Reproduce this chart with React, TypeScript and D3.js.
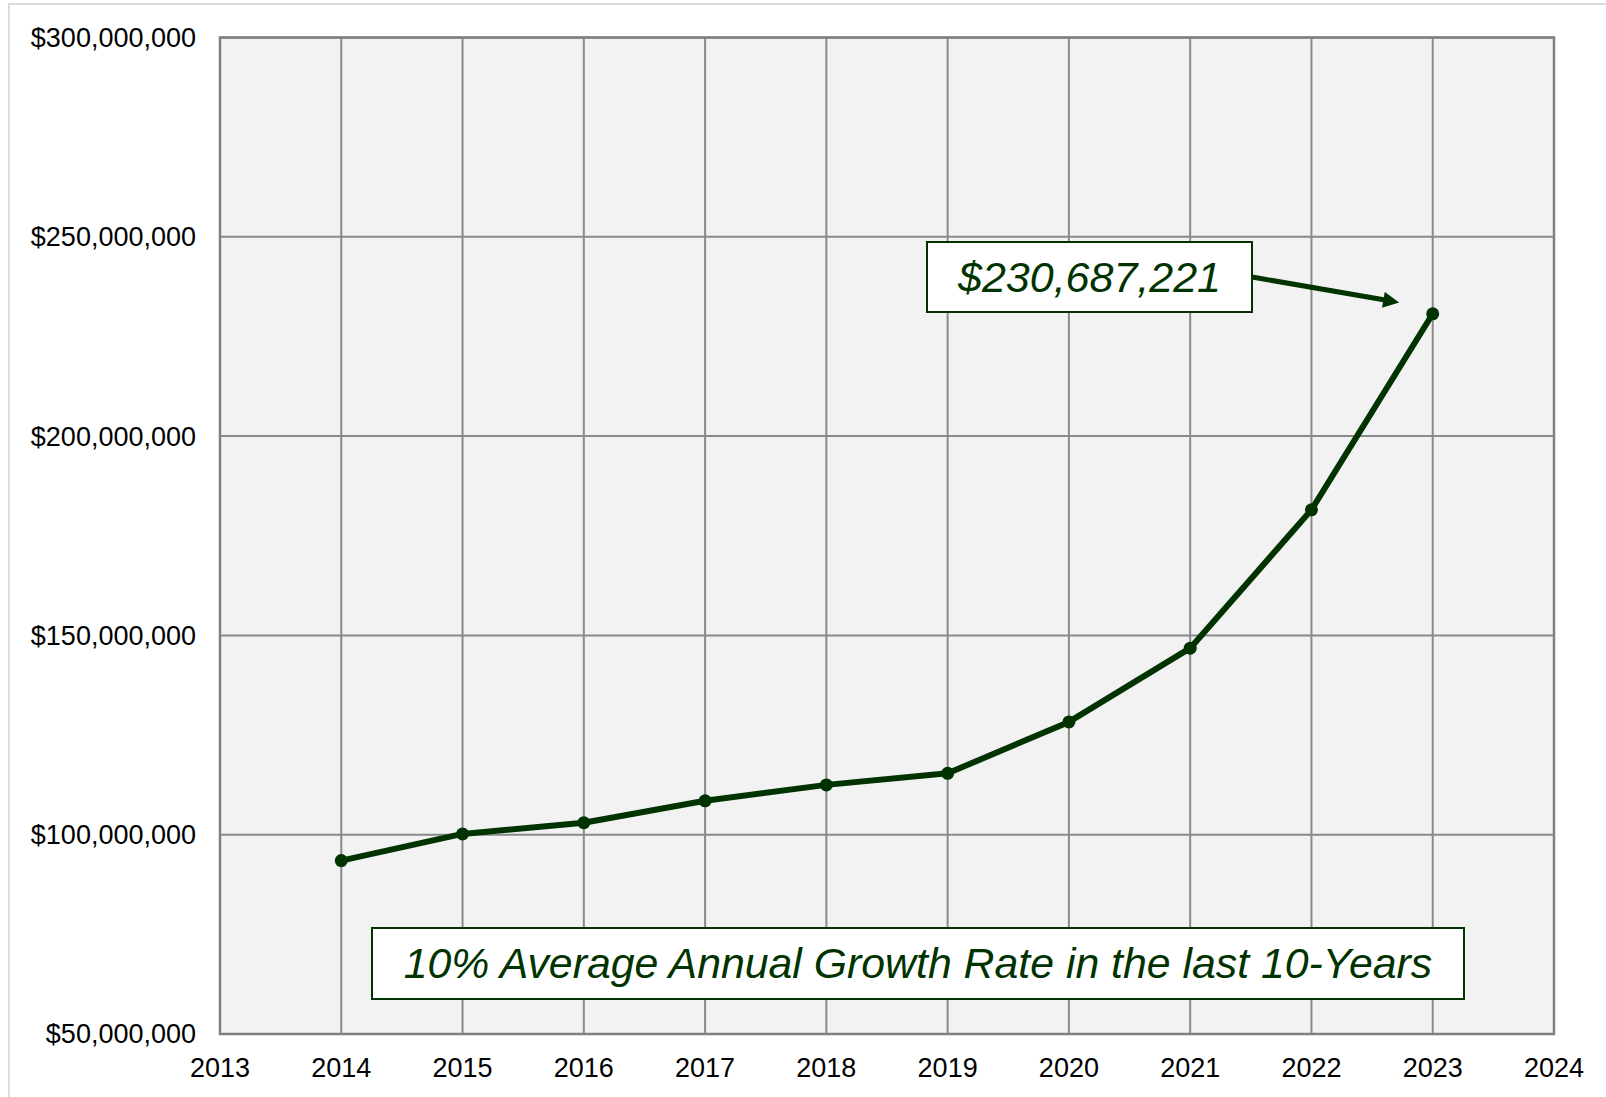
import React from "react";
import * as d3 from "d3";

const years = [2014, 2015, 2016, 2017, 2018, 2019, 2020, 2021, 2022, 2023];
const revenue = [
  93500000, 100200000, 103000000, 108500000, 112500000, 115400000, 128300000,
  146800000, 181500000, 230687221,
];
const xTicks = [2013, 2014, 2015, 2016, 2017, 2018, 2019, 2020, 2021, 2022, 2023, 2024];
const yTicks = [50000000, 100000000, 150000000, 200000000, 250000000, 300000000];
const calloutText = "$230,687,221";
const growthText = "10% Average Annual Growth Rate in the last 10-Years";

const W = 1606;
const H = 1097;
const green = "#013300";
const font = "'Liberation Sans', Arial, sans-serif";

const App: React.FC = () => {
  const x = d3.scaleLinear().domain([2013, 2024]).range([220, 1554]);
  const y = d3.scaleLinear().domain([50000000, 300000000]).range([1034, 37.5]);
  const fmt = (v: number) => "$" + d3.format(",")(v);

  const line = d3
    .line<number>()
    .x((_, i) => x(years[i]))
    .y((d) => y(d));

  const last = revenue.length - 1;
  // arrow from callout box towards the last point; head tip stops short of it
  const ax0 = 1252;
  const ay0 = 277;
  const tipX = x(years[last]) - 32;
  const tipY = y(revenue[last]) - 11;
  const dx = tipX - ax0;
  const dy = tipY - ay0;
  const len = Math.hypot(dx, dy);
  const ax1 = tipX - (14.4 * dx) / len;
  const ay1 = tipY - (14.4 * dy) / len;

  return (
    <svg
      width={W}
      height={H}
      style={{ position: "absolute", left: 0, top: 0, background: "#fff" }}
    >
      <defs>
        <marker
          id="head"
          viewBox="0 0 10 10"
          refX="2"
          refY="5"
          markerWidth="3.6"
          markerHeight="3.2"
          orient="auto"
          markerUnits="strokeWidth"
        >
          <path d="M0,0 L10,5 L0,10 z" fill={green} />
        </marker>
      </defs>
      <rect x={9} y={4} width={W} height={H} fill="none" stroke="#dcdcdc" strokeWidth={2} />

      {/* plot area */}
      <rect x={x(2013)} y={y(300000000)} width={x(2024) - x(2013)} height={y(50000000) - y(300000000)} fill="#f2f2f2" />
      {xTicks.map((t) => (
        <line key={"gx" + t} x1={x(t)} x2={x(t)} y1={y(300000000)} y2={y(50000000)} stroke="#8a8a8a" strokeWidth={2} />
      ))}
      {yTicks.map((t) => (
        <line key={"gy" + t} x1={x(2013)} x2={x(2024)} y1={y(t)} y2={y(t)} stroke="#8a8a8a" strokeWidth={2} />
      ))}
      <rect x={x(2013)} y={y(300000000)} width={x(2024) - x(2013)} height={y(50000000) - y(300000000)} fill="none" stroke="#808080" strokeWidth={2.5} />

      {/* axes labels */}
      {yTicks.map((t) => (
        <text key={"ly" + t} x={196} y={y(t)} dy="0.35em" textAnchor="end" fontFamily={font} fontSize={27} fill="#000">
          {fmt(t)}
        </text>
      ))}
      {xTicks.map((t) => (
        <text key={"lx" + t} x={x(t)} y={1077} textAnchor="middle" fontFamily={font} fontSize={27} fill="#000">
          {t}
        </text>
      ))}

      {/* series */}
      <path d={line(revenue) || ""} fill="none" stroke={green} strokeWidth={6} strokeLinejoin="round" />
      {revenue.map((v, i) => (
        <circle key={"p" + i} cx={x(years[i])} cy={y(v)} r={6.5} fill={green} />
      ))}

      {/* callout */}
      <line x1={ax0} y1={ay0} x2={ax1} y2={ay1} stroke={green} strokeWidth={5} markerEnd="url(#head)" />
      <rect x={927} y={242} width={325} height={70} fill="#fff" stroke={green} strokeWidth={2} />
      <text x={1089.5} y={292} textAnchor="middle" fontFamily={font} fontStyle="italic" fontSize={43} fill={green}>
        {calloutText}
      </text>

      <rect x={372} y={928} width={1092} height={71} fill="#fff" stroke={green} strokeWidth={2} />
      <text x={918} y={978} textAnchor="middle" fontFamily={font} fontStyle="italic" fontSize={42.8} fill={green}>
        {growthText}
      </text>
    </svg>
  );
};

export default App;
